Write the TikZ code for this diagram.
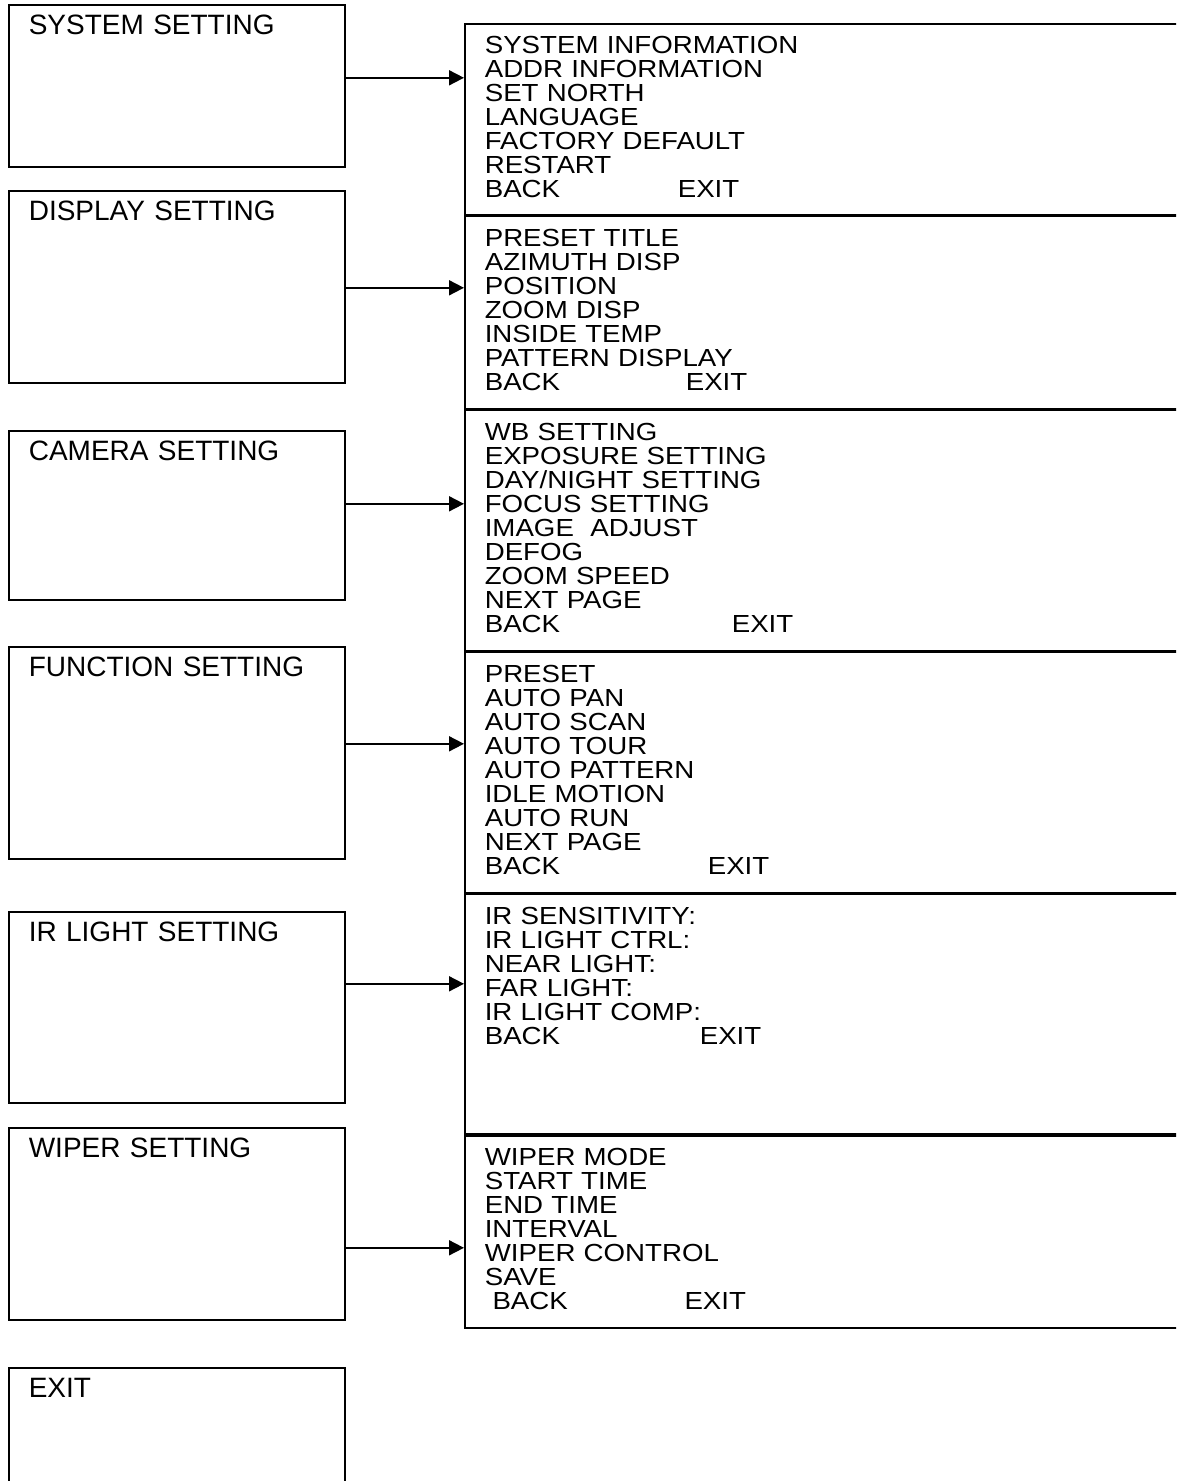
\documentclass[tikz,border=0pt]{standalone}
\usepackage{fontspec}
\setmainfont{Liberation Sans}
\newfontfamily\menufont[FakeStretch=1.12]{Liberation Sans}
\usetikzlibrary{arrows.meta,positioning}
\newcommand\backexit[1]{\makebox[#1][l]{BACK}EXIT}

\begin{document}
\begin{tikzpicture}[x=1pt,y=-1pt,>={Triangle[length=15pt,width=15pt]},
	setbox/.style={draw,line width=1.6pt,anchor=north west,inner xsep=20pt,inner ysep=0pt,
		text width=296pt,align=left,text height=30pt,text depth=#1,
		font=\fontsize{28}{34}\selectfont},
	menubox/.style={draw,line width=1.6pt,anchor=north west,inner xsep=20pt,inner ysep=0pt,
		text width=720pt,align=left,text height=30pt,text depth=#1,
		font=\menufont\fontsize{24.7}{24}\selectfont},
	link/.style={->,line width=1.8pt}]

\useasboundingbox (0,0) rectangle (1176,1481);
\clip (0,0) rectangle (1176,1481);

\node[setbox=132pt]   (sys)   at (8,4)    {SYSTEM SETTING};
\node[setbox=162pt]   (disp)  at (8,190)  {DISPLAY SETTING};
\node[setbox=139pt]   (cam)   at (8,430)  {CAMERA SETTING};
\node[setbox=182pt]   (func)  at (8,646)  {FUNCTION SETTING};
\node[setbox=161pt]   (ir)    at (8,911)  {IR LIGHT SETTING};
\node[setbox=162pt]   (wiper) at (8,1127) {WIPER SETTING};
\node[setbox=170pt]   (exit)  at (8,1367) {EXIT};

\node[menubox=161pt]  (sysm)   at (464,23)          {SYSTEM INFORMATION\\ADDR INFORMATION\\SET NORTH\\LANGUAGE\\FACTORY DEFAULT\\RESTART\\\backexit{193pt}};
\node[menubox=162pt]  (dispm)  at (sysm.south west) {PRESET TITLE\\AZIMUTH DISP\\POSITION\\ZOOM DISP\\INSIDE TEMP\\PATTERN DISPLAY\\\backexit{201pt}};
\node[menubox=211pt]  (camm)   at (dispm.south west) {WB SETTING\\EXPOSURE SETTING\\DAY/NIGHT SETTING\\FOCUS SETTING\\IMAGE\ \ ADJUST\\DEFOG\\ZOOM SPEED\\NEXT PAGE\\\backexit{247pt}};
\node[menubox=210pt]  (funcm)  at (camm.south west) {PRESET\\AUTO PAN\\AUTO SCAN\\AUTO TOUR\\AUTO PATTERN\\IDLE MOTION\\AUTO RUN\\NEXT PAGE\\\backexit{223pt}};
\node[menubox=210pt]  (irm)    at (funcm.south west) {IR SENSITIVITY:\\IR LIGHT CTRL:\\NEAR LIGHT:\\FAR LIGHT:\\IR LIGHT COMP:\\\backexit{215pt}};
\node[menubox=162pt]  (wiperm) at (irm.south west)  {WIPER MODE\\START TIME\\END TIME\\INTERVAL\\WIPER CONTROL\\SAVE\\\hspace*{7.7pt}\backexit{192pt}};

\foreach \from/\to/\dy in {sys/sysm/8,disp/dispm/-1,cam/camm/11.5,func/funcm/9,ir/irm/23.5,wiper/wiperm/-24}
	\draw[link] ([yshift=\dy pt]\from.east) -- ([yshift=\dy pt]\from.east -| \to.west);

\end{tikzpicture}
\end{document}
